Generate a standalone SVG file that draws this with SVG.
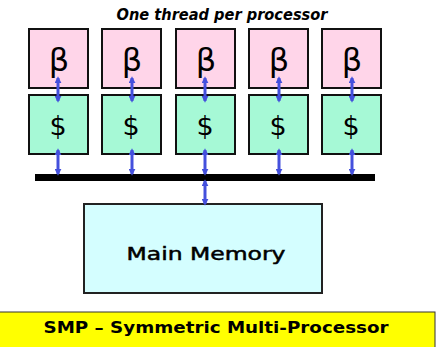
<svg xmlns="http://www.w3.org/2000/svg" width="445" height="347" viewBox="0 0 445 347">
<style>
.cpu{fill:#ffd5e9;stroke:#111;stroke-width:2}
.cache{fill:#a6f9d6;stroke:#111;stroke-width:2}
.mem{fill:#d4feff;stroke:#222;stroke-width:2}
.lbl{font-family:"DejaVu Sans","Liberation Sans",Arial,sans-serif;fill:#000;text-anchor:middle}
.big{font-size:32px}
.cur{font-size:27px}
.arr{stroke:#4450dd;stroke-width:3;fill:none;marker-start:url(#ah);marker-end:url(#ah)}
</style>
<defs>
<marker id="ah" viewBox="0 0 8 8" refX="6" refY="4" markerWidth="7" markerHeight="7" markerUnits="userSpaceOnUse" orient="auto-start-reverse">
<path d="M0,0 L8,4 L0,8 Z" fill="#4450dd"/>
</marker>
</defs>
<text class="lbl" x="222" y="20" style="font-size:15px;font-style:italic;font-weight:bold" textLength="211" lengthAdjust="spacingAndGlyphs">One thread per processor</text>
<g id="cpu1"><rect class="cpu" x="29" y="29" width="59" height="59"/><text class="lbl big" x="59" y="71">β</text></g>
<g id="cpu2"><rect class="cpu" x="102" y="29" width="59" height="59"/><text class="lbl big" x="132" y="71">β</text></g>
<g id="cpu3"><rect class="cpu" x="176" y="29" width="59" height="59"/><text class="lbl big" x="206" y="71">β</text></g>
<g id="cpu4"><rect class="cpu" x="249" y="29" width="59" height="59"/><text class="lbl big" x="279" y="71">β</text></g>
<g id="cpu5"><rect class="cpu" x="322" y="29" width="59" height="59"/><text class="lbl big" x="352" y="71">β</text></g>
<g id="cache1"><rect class="cache" x="29" y="95" width="59" height="59"/><text class="lbl cur" x="58" y="135">$</text></g>
<g id="cache2"><rect class="cache" x="102" y="95" width="59" height="59"/><text class="lbl cur" x="131" y="135">$</text></g>
<g id="cache3"><rect class="cache" x="176" y="95" width="59" height="59"/><text class="lbl cur" x="205" y="135">$</text></g>
<g id="cache4"><rect class="cache" x="249" y="95" width="59" height="59"/><text class="lbl cur" x="278" y="135">$</text></g>
<g id="cache5"><rect class="cache" x="322" y="95" width="59" height="59"/><text class="lbl cur" x="351" y="135">$</text></g>
<g id="bus"><rect x="35" y="174" width="340" height="7" fill="#000"/></g>
<g id="memory"><rect class="mem" x="84" y="204" width="238" height="89"/><text class="lbl" x="206" y="260" style="font-size:18px;stroke:#000;stroke-width:0.5" textLength="159" lengthAdjust="spacingAndGlyphs">Main Memory</text></g>
<g id="connectors">
<line class="arr" x1="58" y1="78" x2="58" y2="101"/>
<line class="arr" x1="132" y1="78" x2="132" y2="101"/>
<line class="arr" x1="205" y1="78" x2="205" y2="101"/>
<line class="arr" x1="279" y1="78" x2="279" y2="101"/>
<line class="arr" x1="352" y1="78" x2="352" y2="101"/>
<line class="arr" x1="58" y1="150" x2="58" y2="174"/>
<line class="arr" x1="132" y1="150" x2="132" y2="174"/>
<line class="arr" x1="205" y1="150" x2="205" y2="174"/>
<line class="arr" x1="279" y1="150" x2="279" y2="174"/>
<line class="arr" x1="352" y1="150" x2="352" y2="174"/>
<line class="arr" x1="205" y1="181" x2="205" y2="204"/>
</g>
<g id="caption"><rect x="-1" y="312" width="436" height="40" fill="#ffff00" stroke="#333" stroke-width="1"/><text class="lbl" x="216" y="333" style="font-size:15px;font-weight:bold" textLength="345" lengthAdjust="spacingAndGlyphs">SMP – Symmetric Multi-Processor</text></g>
</svg>
